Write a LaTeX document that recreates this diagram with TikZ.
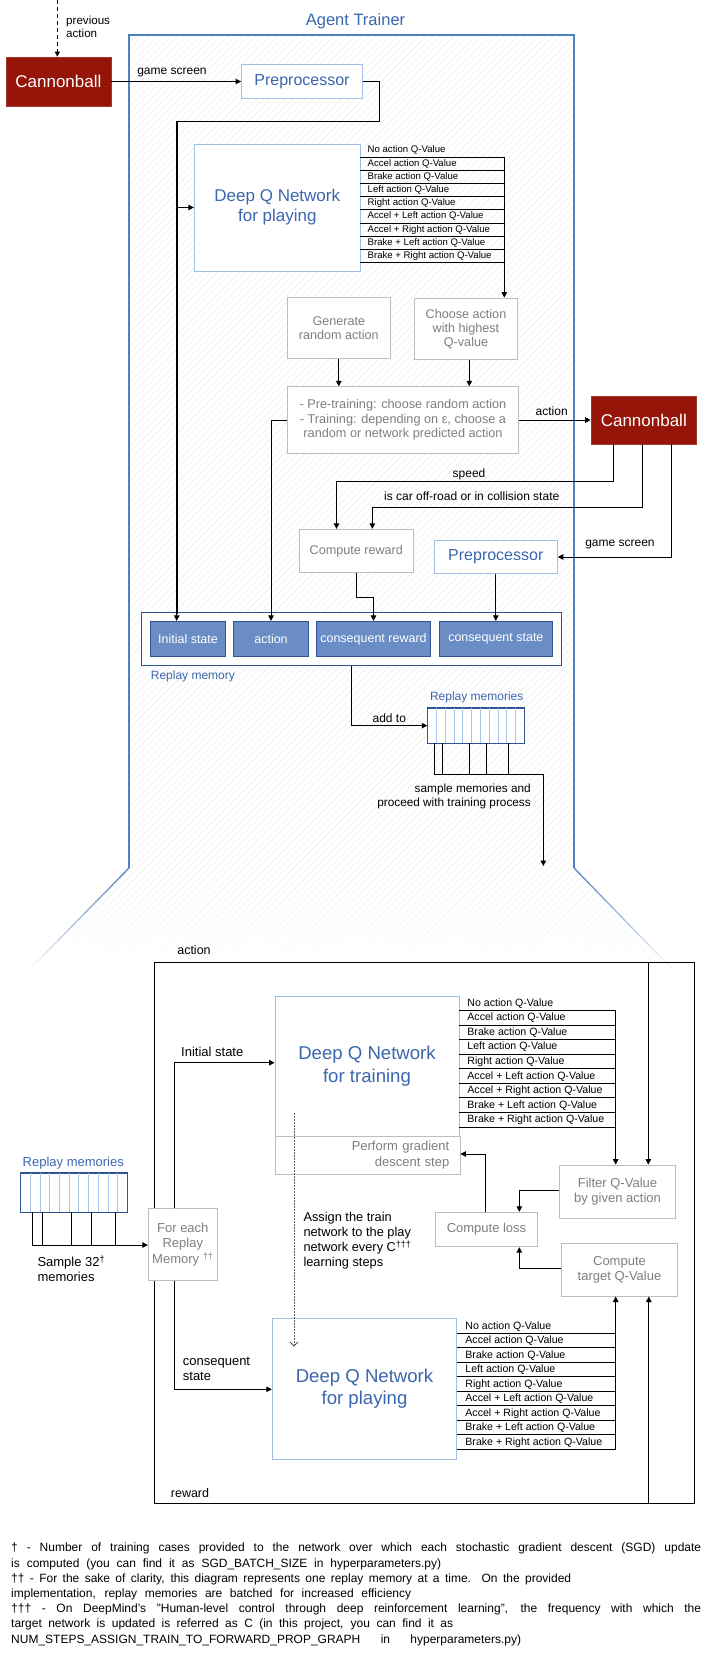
\documentclass[tikz,border=0pt]{standalone}
\usepackage{fontspec}
\setmainfont{Liberation Sans}
\usetikzlibrary{arrows.meta,patterns.meta,fadings}
\definecolor{blueT}{HTML}{3B67AE}
\definecolor{agentB}{HTML}{4F81BD}
\definecolor{lblue}{HTML}{9FBFE5}
\definecolor{gbord}{HTML}{BDBDBD}
\definecolor{gtext}{HTML}{7F7F7F}
\definecolor{cbred}{HTML}{951508}
\definecolor{rmfill}{HTML}{6A8DC5}
\definecolor{rmdark}{HTML}{2F5597}
\definecolor{rmline}{HTML}{A9C4EB}
\definecolor{hatch}{HTML}{EAEAEA}
\newcommand{\fs}[2]{\fontsize{#1}{#2}\selectfont}
\begin{document}
\begin{tikzpicture}[x=1pt,y=-1pt,
  conn/.style={draw=black,line width=0.9pt},
  arr/.style={conn,-{Triangle[length=5.5pt,width=5.5pt]}},
  lbl/.style={inner sep=0pt,font=\fs{12}{14}},
  lblb/.style={inner sep=0pt,font=\fs{13}{15}},
  bbox/.style={draw=lblue,line width=0.9pt,fill=white,inner sep=0pt,text=blueT,align=center},
  gbox/.style={draw=gbord,line width=0.9pt,fill=white,inner sep=0pt,text=gtext,align=center},
  cball/.style={fill=cbred,draw=cbred!85!white,line width=0.6pt,text=white,inner sep=0pt,font=\fs{17}{20}},
  rmcell/.style={fill=rmfill,draw=rmdark,line width=0.8pt,text=white,inner sep=0pt,font=\fs{12.5}{15}},
  qtxt/.style={inner sep=0pt,anchor=west},
  fn/.style={inner sep=0pt,anchor=west,font=\fs{12}{15}},
]
\fill[white] (0,0) rectangle (705,1657);
\useasboundingbox (0,0) rectangle (705,1657);

% ---------- Agent trainer frame ----------
\fill[pattern={Lines[angle=45,distance=5pt,line width=0.4pt]},pattern color=hatch] (129,35) rectangle (574,868);
\fill[pattern={Lines[angle=45,distance=5pt,line width=0.4pt]},pattern color=hatch,path fading=south] (129,868) -- (574,868) -- (673,970) -- (29,970) -- cycle;
\draw[agentB,line width=1.5pt] (129,868) -- (129,35) -- (574,35) -- (574,868);
\draw[agentB,line width=1.3pt,path fading=south] (129,868) -- (29,970);
\draw[agentB,line width=1.3pt,path fading=south] (574,868) -- (673,970);
\node[font=\fs{16.5}{20},text=blueT,inner sep=0pt] (title) at (355.5,21.7) {Agent Trainer};

% ---------- top ----------
\node[cball,minimum width=105pt,minimum height=49pt] (cb1) at (58.4,81.5) {Cannonball};
\coordinate (prevtop) at (57.3,0);
\draw[conn,dash pattern=on 4pt off 3pt,-{Triangle[length=5pt,width=5pt]}] (prevtop) -- (prevtop |- cb1.north);
\node[lbl,anchor=west,align=left,font=\fs{11.6}{13}] (prev) at (66,26.5) {previous\\action};

\node[bbox,minimum width=121pt,minimum height=34pt,font=\fs{16}{19}] (pre1) at (302,81.5) {Preprocessor};
\draw[arr] (cb1.east) -- (pre1.west);
\node[lbl] (gs1) at (172,72.7) {game screen};

\node[bbox,minimum width=166pt,minimum height=127pt,font=\fs{17}{20}] (dqn1) at (277.3,207.5) {Deep Q Network\\for playing};

\foreach \t [count=\i from 0] in {No action Q-Value,Accel action Q-Value,Brake action Q-Value,Left action Q-Value,Right action Q-Value,Accel + Left action Q-Value,Accel + Right action Q-Value,Brake + Left action Q-Value,Brake + Right action Q-Value}{
  \node[qtxt,font=\fs{9.6}{11}] (qa\i) at (367.5,{150.4+13.2*\i}) {\t};
  \draw[conn,line width=0.8pt] (360.3,{157+13.2*\i}) -- (504.3,{157+13.2*\i});
}

\node[gbox,minimum width=103pt,minimum height=61pt,font=\fs{12.6}{14}] (gen) at (338.8,327.8) {Generate\\random action};
\node[gbox,minimum width=103.4pt,minimum height=61.3pt,font=\fs{12.6}{14}] (choose) at (466,328.7) {Choose action\\with highest\\Q-value};
\node[gbox,minimum width=231.4pt,minimum height=66.6pt,font=\fs{12.7}{14.4}] (policy) at (403,420) {- Pre-training: choose random action\\- Training: depending on ε, choose a\\random or network predicted action};

\coordinate (q1top) at (504.3,157);
\draw[arr] (q1top) -- (q1top |- choose.north);
\draw[arr] (gen.south) -- (gen.south |- policy.north);
\coordinate (chx) at (469.3,360);
\draw[arr] (chx |- choose.south) -- (chx |- policy.north);

\node[cball,minimum width=105.7pt,minimum height=47.8pt] (cb2) at (643.8,420) {Cannonball};
\draw[arr] (policy.east) -- (cb2.west);
\node[lbl] (actl) at (551.7,411.7) {action};

\node[gbox,minimum width=114pt,minimum height=43pt,font=\fs{12.6}{14}] (creward) at (356.3,550.8) {Compute reward};
\node[bbox,minimum width=123pt,minimum height=33.6pt,font=\fs{16}{19}] (pre2) at (495.8,557) {Preprocessor};

\coordinate (sp1) at (613.3,481);
\coordinate (sp2) at (336.5,481);
\draw[arr] (sp1 |- cb2.south) -- (sp1) -- (sp2) -- (sp2 |- creward.north);
\node[lbl] (speedl) at (469,474) {speed};
\coordinate (co1) at (642.7,507.7);
\coordinate (co2) at (372.3,507.7);
\draw[arr] (co1 |- cb2.south) -- (co1) -- (co2) -- (co2 |- creward.north);
\node[lbl] (coll) at (471.7,496) {is car off-road or in collision state};
\coordinate (gs2) at (671.7,557);
\draw[arr] (gs2 |- cb2.south) -- (gs2) -- (pre2.east);
\node[lbl] (gsl2) at (620,545) {game screen};

% replay memory
\node[draw=rmdark,line width=0.9pt,fill=white,minimum width=420pt,minimum height=53pt,inner sep=0pt] (rmem) at (351.7,638.8) {};
\node[rmcell,minimum width=75.4pt,minimum height=35.4pt] (is) at (188,639) {Initial state};
\node[rmcell,minimum width=75.4pt,minimum height=35.4pt] (ac) at (271,639) {action};
\node[rmcell,minimum width=114.4pt,minimum height=35.4pt] (cr) at (373.5,639) {consequent reward};
\node[rmcell,minimum width=113.7pt,minimum height=35.4pt] (cs) at (495.85,639) {consequent state};
\node[lbl,anchor=west,text=blueT] (rml) at (150.7,676) {Replay memory};

\coordinate (s1a) at (379.4,81.5);
\coordinate (s1b) at (176.7,121.7);
\coordinate (s1c) at (176.7,614);
\draw[arr] (pre1.east) -- (s1a) |- (s1b) -- (s1b |- is.north);
\draw[line width=1.7pt] (s1b) -- (s1c);
\draw[arr] (s1b |- dqn1.west) -- (dqn1.west);
\coordinate (ac1) at (271,420);
\draw[arr] (policy.west) -- (ac1) -- (ac1 |- ac.north);
\coordinate (cr2) at (373.5,597.3);
\draw[arr] (creward.south) |- (cr2) -- (cr.north);
\draw[arr] (pre2.south) -- (pre2.south |- cs.north);

% replay memories (top)
\node[draw=rmdark,line width=0.9pt,fill=white,minimum width=96.6pt,minimum height=34.7pt,inner sep=0pt] (rm1) at (476,725.65) {};
\foreach \k in {1,...,10} \draw[rmline,line width=0.8pt] ({427.7+8.782*\k},708.3) -- ({427.7+8.782*\k},743);
\draw[rmdark,line width=0.9pt] (rm1.north west) rectangle (rm1.south east);
\node[lbl,text=blueT] (rm1l) at (476.7,697.3) {Replay memories};
\coordinate (ad1) at (351.7,725.65);
\draw[arr] (rmem.south) -- (ad1) -- (rm1.west);
\node[lbl] (addl) at (389.3,718.5) {add to};
\foreach \xx in {434.3,442.3,469.3,486.3,508.3} \draw[conn] (\xx,743) -- (\xx,774.3);
\coordinate (smp0) at (434.3,774.3);
\coordinate (smp) at (543.3,774.3);
\coordinate (smpend) at (543.3,866);
\draw[arr] (smp0) -- (smp) -- (smpend);
\node[lbl,anchor=east,align=right,font=\fs{11.8}{14.3}] (smpl) at (531,796.2) {sample memories and\\proceed with training process};

% ---------- bottom ----------
\node[bbox,minimum width=184pt,minimum height=140pt,font=\fs{18.6}{23}] (dqn2) at (367,1066) {Deep Q Network\\for training};
\node[gbox,minimum width=185pt,minimum height=38.3pt,text width=163.6pt,align=right,font=\fs{13}{16}] (perf) at (367.5,1155.2) {Perform gradient\\descent step};

\foreach \t [count=\i from 0] in {No action Q-Value,Accel action Q-Value,Brake action Q-Value,Left action Q-Value,Right action Q-Value,Accel + Left action Q-Value,Accel + Right action Q-Value,Brake + Left action Q-Value,Brake + Right action Q-Value}{
  \node[qtxt,font=\fs{10.6}{12}] (qb\i) at (467.2,{1003.2+14.59*\i}) {\t};
  \draw[conn,line width=0.8pt] (459,{1010.3+14.59*\i}) -- (615.7,{1010.3+14.59*\i});
}

\node[gbox,minimum width=116.4pt,minimum height=53.3pt,font=\fs{13}{15}] (filter) at (617.5,1191.7) {Filter Q-Value\\by given action};
\node[gbox,minimum width=102.4pt,minimum height=34.4pt,font=\fs{13}{15}] (closs) at (486.5,1229.5) {Compute loss};
\node[gbox,minimum width=115.6pt,minimum height=52.7pt,font=\fs{13}{14.3}] (ctarget) at (619.5,1269.7) {Compute\\target Q-Value};

\coordinate (q2top) at (615.7,1010.3);
\draw[arr] (q2top) -- (q2top |- filter.north);
\coordinate (fl) at (519.3,1190);
\draw[arr] (filter.west |- fl) -- (fl) -- (fl |- closs.north);
\coordinate (tl) at (519.3,1268.3);
\draw[arr] (ctarget.west |- tl) -- (tl) -- (tl |- closs.south);
\coordinate (lp) at (485,1154);
\draw[arr] (closs.north -| lp) -- (lp) -- (lp -| perf.east);

% left replay memories
\node[draw=rmdark,line width=0.9pt,fill=white,minimum width=106.6pt,minimum height=38.7pt,inner sep=0pt] (rm2) at (74,1192.65) {};
\foreach \k in {1,...,10} \draw[rmline,line width=0.8pt] ({20.7+9.69*\k},1173.3) -- ({20.7+9.69*\k},1212);
\draw[rmdark,line width=0.9pt] (rm2.north west) rectangle (rm2.south east);
\node[lblb,text=blueT] (rm2l) at (73.3,1163.3) {Replay memories};

\node[gbox,minimum width=69pt,minimum height=71.6pt,font=\fs{13}{15.5}] (foreach) at (182.8,1244.5) {For each\\Replay\\Memory \textsuperscript{††}};
\foreach \xx in {32.3,42.3,71.3,91.3,115.3} \draw[conn] (\xx,1212) -- (\xx,1245);
\coordinate (sm2) at (32.3,1245);
\draw[arr] (sm2) -- (sm2 -| foreach.west);
\node[lblb,anchor=west,align=left,font=\fs{13}{14.7}] (sm2l) at (37.3,1268.3) {Sample 32\textsuperscript{†}\\memories};

\node[bbox,minimum width=184.4pt,minimum height=140.7pt,font=\fs{18.6}{22.7}] (dqn3) at (364.5,1388.65) {Deep Q Network\\for playing};
\foreach \t [count=\i from 0] in {No action Q-Value,Accel action Q-Value,Brake action Q-Value,Left action Q-Value,Right action Q-Value,Accel + Left action Q-Value,Accel + Right action Q-Value,Brake + Left action Q-Value,Brake + Right action Q-Value}{
  \node[qtxt,font=\fs{10.6}{12}] (qc\i) at (465.2,{1326.5+14.5*\i}) {\t};
  \draw[conn,line width=0.8pt] (456.7,{1333.3+14.5*\i}) -- (615.7,{1333.3+14.5*\i});
}
\coordinate (q3bot) at (615.7,1449.3);
\draw[arr] (q3bot) -- (q3bot |- ctarget.south);

% loop connectors from "For each"
\coordinate (aT) at (154.3,962);
\coordinate (aC) at (694,962);
\coordinate (rB) at (154.3,1503);
\coordinate (rC) at (694,1503);
\coordinate (aX) at (648.3,962);
\coordinate (rX) at (648.8,1503);
\coordinate (isT) at (174,1062.7);
\coordinate (csB) at (174,1389.3);
\draw[conn] (foreach.north -| aT) -- (aT) -- (aC) -- (rC) -- (rB) -- (foreach.south -| rB);
\draw[arr] (aX) -- (aX |- filter.north);
\draw[arr] (rX) -- (rX |- ctarget.south);
\draw[arr] (foreach.north -| isT) -- (isT) -- (isT -| dqn2.west);
\draw[arr] (foreach.south -| csB) -- (csB) -- (csB -| dqn3.west);
\node[lbl,font=\fs{12.5}{15}] (actl2) at (194,950) {action};
\node[lbl,font=\fs{12.5}{15}] (rewl) at (190,1492.7) {reward};
\node[lblb,anchor=west] (isl) at (181,1052) {Initial state};
\node[lblb,anchor=west,align=left] (csl) at (182.7,1368.5) {consequent\\state};

% dotted assign
\coordinate (dt1) at (294,1113);
\coordinate (dt2) at (294,1346.7);
\draw[black!65,line width=0.9pt,dash pattern=on 1.5pt off 1.5pt,-{Straight Barb[length=4pt,width=8pt]}] (dt1) -- (dt2);
\node[lblb,anchor=west,align=left,font=\fs{12.8}{15}] (assign) at (303.3,1240.8) {Assign the train\\network to the play\\network every C\textsuperscript{†††}\\learning steps};

% ---------- footnotes ----------
\node[fn] (fn1) at (11,1548) {\makebox[690pt][s]{† - Number of training cases provided to the network over which each stochastic gradient descent (SGD) update}};
\node[fn] (fn2) at (11,1564) {\makebox[430pt][s]{is computed (you can find it as SGD\_BATCH\_SIZE in hyperparameters.py)}};
\node[fn] (fn3) at (11,1579) {\makebox[560pt][s]{†† - For the sake of clarity, this diagram represents one replay memory at a time. On the provided}};
\node[fn] (fn4) at (11,1594) {\makebox[400pt][s]{implementation, replay memories are batched for increased efficiency}};
\node[fn] (fn5) at (11,1609) {\makebox[690pt][s]{††† - On DeepMind's "Human-level control through deep reinforcement learning", the frequency with which the}};
\node[fn] (fn6) at (11,1624) {\makebox[442pt][s]{target network is updated is referred as C (in this project, you can find it as}};
\node[fn] (fn7) at (11,1640) {\makebox[510pt][s]{NUM\_STEPS\_ASSIGN\_TRAIN\_TO\_FORWARD\_PROP\_GRAPH \ in \ hyperparameters.py)}};
\end{tikzpicture}
\end{document}
